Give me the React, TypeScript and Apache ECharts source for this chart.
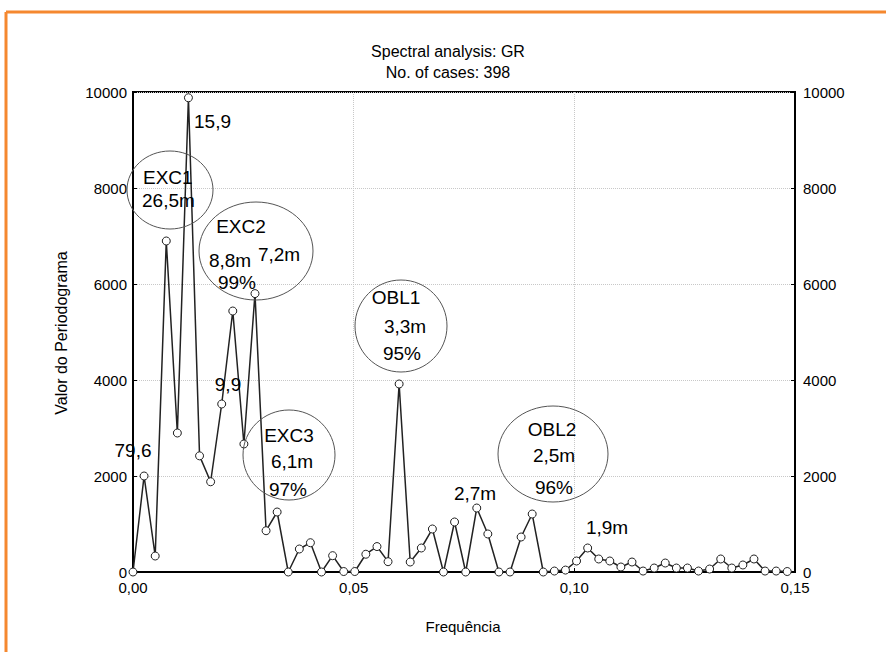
import React, { useEffect, useRef } from "react";
import * as echarts from "echarts";

const frequencies = [
  0, 0.00251, 0.00503, 0.00754, 0.01005, 0.01256, 0.01508, 0.01759, 0.0201, 0.02261,
  0.02513, 0.02764, 0.03015, 0.03266, 0.03518, 0.03769, 0.0402, 0.04271, 0.04523, 0.04774,
  0.05025, 0.05276, 0.05528, 0.05779, 0.0603, 0.06281, 0.06533, 0.06784, 0.07035, 0.07286,
  0.07538, 0.07789, 0.0804, 0.08291, 0.08543, 0.08794, 0.09045, 0.09296, 0.09548, 0.09799,
  0.1005, 0.10302, 0.10553, 0.10804, 0.11055, 0.11307, 0.11558, 0.11809, 0.1206, 0.12312,
  0.12563, 0.12814, 0.13065, 0.13317, 0.13568, 0.13819, 0.1407, 0.14322, 0.14573, 0.14824,
];

const periodogram = [
  0, 2000, 333, 6896, 2896, 9880, 2420, 1880, 3500, 5437,
  2667, 5800, 860, 1250, 0, 479, 610, 0, 340, 10,
  10, 370, 530, 215, 3917, 208, 500, 896, 0, 1042,
  0, 1333, 792, 0, 0, 729, 1208, 0, 20, 40,
  229, 500, 271, 229, 104, 208, 20, 83, 187, 83,
  83, 20, 62, 271, 83, 146, 271, 20, 20, 10,
];

const xTicks = [0, 0.05, 0.1, 0.15];
const yTicks = [0, 2000, 4000, 6000, 8000, 10000];

const titleLines = ["Spectral analysis: GR", "No. of cases: 398"];
const xTitle = "Frequência";
const yTitle = "Valor do Periodograma";

const FONT = "'Liberation Sans', Arial, sans-serif";

export default function App() {
  const ref = useRef<HTMLDivElement>(null);
  useEffect(() => {
    if (!ref.current) return;
    const chart = echarts.init(ref.current, null, { renderer: "svg" });
    const data = frequencies.map((f, i) => [f, periodogram[i]]);
    const ann = (x: number, y: number, text: string, align = "center") => ({
      type: "text",
      x,
      y,
      style: {
        text,
        fill: "#000",
        font: `19px ${FONT}`,
        textAlign: align,
        textVerticalAlign: "middle",
      },
      z: 20,
    });
    const ell = (cx: number, cy: number, rx: number, ry: number) => ({
      type: "ellipse",
      shape: { cx, cy, rx, ry },
      style: { fill: "none", stroke: "#555", lineWidth: 1 },
      z: 19,
    });
    const yLabel = { color: "#000", fontSize: 15, fontFamily: FONT, formatter: (v: number) => String(v) };
    const option: any = {
      animation: false,
      backgroundColor: "#fff",
      grid: {
        left: 133,
        right: 91,
        top: 92,
        bottom: 80,
        show: true,
        borderColor: "#000",
        borderWidth: 2,
      },
      xAxis: {
        type: "value",
        min: xTicks[0],
        max: xTicks[xTicks.length - 1],
        interval: 0.05,
        axisLine: { show: true, lineStyle: { color: "#000", width: 2 } },
        axisTick: { show: true, inside: true, length: 4, lineStyle: { color: "#000" } },
        splitLine: { show: true, lineStyle: { color: "#c8c8c8", type: "dotted", width: 1 } },
        axisLabel: {
          color: "#000",
          fontSize: 15,
          fontFamily: FONT,
          margin: 8,
          formatter: (v: number) => v.toFixed(2).replace(".", ","),
        },
      },
      yAxis: [
        {
          type: "value",
          min: yTicks[0],
          max: yTicks[yTicks.length - 1],
          interval: 2000,
          axisLine: { show: true, lineStyle: { color: "#000", width: 2 } },
          axisTick: { show: true, inside: true, length: 4, lineStyle: { color: "#000" } },
          splitLine: { show: true, lineStyle: { color: "#c8c8c8", type: "dotted", width: 1 } },
          axisLabel: { ...yLabel, margin: 6 },
        },
        {
          type: "value",
          position: "right",
          min: yTicks[0],
          max: yTicks[yTicks.length - 1],
          interval: 2000,
          axisLine: { show: true, lineStyle: { color: "#000", width: 2 } },
          axisTick: { show: true, inside: true, length: 4, lineStyle: { color: "#000" } },
          splitLine: { show: false },
          axisLabel: { ...yLabel, margin: 8 },
        },
      ],
      series: [
        {
          type: "line",
          data,
          symbol: "circle",
          symbolSize: 8,
          showAllSymbol: true,
          lineStyle: { color: "#222", width: 1.5 },
          itemStyle: { color: "#fff", borderColor: "#222", borderWidth: 1 },
          z: 10,
        },
      ],
      graphic: [
        { type: "line", shape: { x1: 6, y1: 12, x2: 886, y2: 12 }, style: { stroke: "#F5882F", lineWidth: 3 } },
        { type: "line", shape: { x1: 6, y1: 12, x2: 6, y2: 652 }, style: { stroke: "#F5882F", lineWidth: 3 } },
        {
          type: "text", x: 448, y: 51,
          style: { text: titleLines[0], fill: "#000", font: `16px ${FONT}`, textAlign: "center", textVerticalAlign: "middle" },
        },
        {
          type: "text", x: 448, y: 72,
          style: { text: titleLines[1], fill: "#000", font: `16px ${FONT}`, textAlign: "center", textVerticalAlign: "middle" },
        },
        {
          type: "text", x: 463, y: 626,
          style: { text: xTitle, fill: "#000", font: `15px ${FONT}`, textAlign: "center", textVerticalAlign: "middle" },
        },
        {
          type: "text", x: 61, y: 333, rotation: Math.PI / 2,
          style: { text: yTitle, fill: "#000", font: `16px ${FONT}`, textAlign: "center", textVerticalAlign: "middle" },
        },
        ell(170, 190, 43, 39),
        ann(143, 177, "EXC1", "left"),
        ann(142, 200, "26,5m", "left"),
        ann(194, 121, "15,9", "left"),
        ell(256, 251, 57, 49),
        ann(241, 226, "EXC2"),
        ann(230, 260, "8,8m"),
        ann(279, 254, "7,2m"),
        ann(237, 282, "99%"),
        ann(228, 384, "9,9"),
        ann(133, 450, "79,6"),
        ell(289, 455, 46, 45),
        ann(289, 435, "EXC3"),
        ann(292, 461, "6,1m"),
        ann(288, 489, "97%"),
        ell(401, 326, 46, 46),
        ann(396, 297, "OBL1"),
        ann(405, 326, "3,3m"),
        ann(402, 353, "95%"),
        ell(553, 454, 55, 48),
        ann(552, 429, "OBL2"),
        ann(554, 455, "2,5m"),
        ann(554, 487, "96%"),
        ann(475, 493, "2,7m"),
        ann(607, 527, "1,9m"),
      ],
    };
    chart.setOption(option);
    return () => chart.dispose();
  }, []);
  return (
    <div
      ref={ref}
      style={{ position: "fixed", left: 0, top: 0, width: 886, height: 652, background: "#fff" }}
    />
  );
}
